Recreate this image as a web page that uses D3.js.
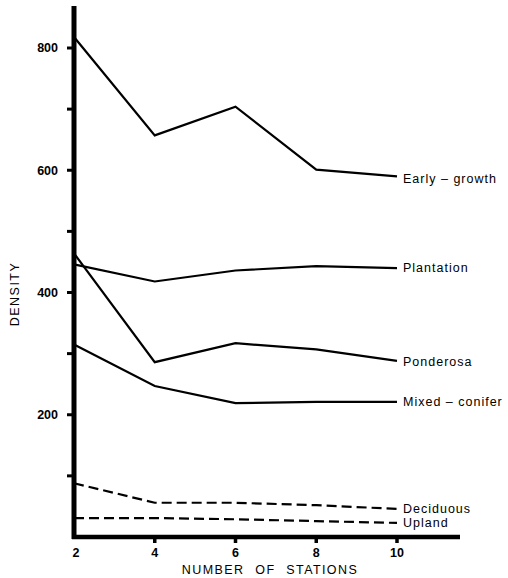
<!DOCTYPE html>
<html>
<head>
<meta charset="utf-8">
<script src="https://d3js.org/d3.v7.min.js"></script>
<style>
  body { margin: 0; background: #fff; }
  text { font-family: "Liberation Sans", Arial, sans-serif; fill: #000; }
</style>
</head>
<body>
<svg id="chart" width="508" height="578"></svg>
<script>
// stations on the x axis
const stations = [2, 4, 6, 8, 10];
// density values per habitat
const earlyGrowth   = [818, 657, 704, 601, 590];
const plantation    = [446, 418, 436, 443, 440];
const ponderosa     = [464, 286, 317, 307, 288];
const mixedConifer  = [315, 247, 219, 221, 221];
const deciduous     = [88, 56, 56, 52, 46];
const upland        = [31, 31, 29, 26, 23];
const seriesNames   = ["Early \u2013 growth", "Plantation", "Ponderosa", "Mixed \u2013 conifer", "Deciduous", "Upland"];
const dashedSeries  = [false, false, false, false, true, true];
const yTickLabels   = [200, 400, 600, 800];
const yMinorTicks   = [100, 300, 500, 700];

const allSeries = [earlyGrowth, plantation, ponderosa, mixedConifer, deciduous, upland];

const svg = d3.select("#chart");
const x = d3.scaleLinear().domain([2, 10]).range([74, 397]);
const y = d3.scaleLinear().domain([0, 800]).range([537, 48]);

// series lines
const line = d3.line().x((d, i) => x(stations[i])).y(d => y(d));
allSeries.forEach((s, k) => {
  svg.append("path")
    .attr("d", line(s))
    .attr("fill", "none")
    .attr("stroke", "#000")
    .attr("stroke-width", 2.2)
    .attr("stroke-dasharray", dashedSeries[k] ? "10,5" : null);
});

// labels at right end
const labelNudge = [2, 0, 1, 0, 0, 0];
allSeries.forEach((s, k) => {
  svg.append("text")
    .attr("x", x(10) + 6)
    .attr("y", y(s[4]) + labelNudge[k])
    .attr("dy", "0.35em")
    .attr("font-size", 12.5)
    .attr("letter-spacing", 1)
    .text(seriesNames[k]);
});

// y axis: thick line, ticks on the left
svg.append("line")
  .attr("x1", 74).attr("x2", 74)
  .attr("y1", 6).attr("y2", 539)
  .attr("stroke", "#000").attr("stroke-width", 5);
svg.selectAll(".ytick")
  .data(yTickLabels.concat(yMinorTicks))
  .enter().append("line")
  .attr("x1", 67).attr("x2", 74)
  .attr("y1", d => y(d)).attr("y2", d => y(d))
  .attr("stroke", "#000").attr("stroke-width", 3);
svg.selectAll(".ylab")
  .data(yTickLabels)
  .enter().append("text")
  .attr("x", 58)
  .attr("y", d => y(d))
  .attr("dy", "0.35em")
  .attr("text-anchor", "end")
  .attr("font-size", 12.5)
  .attr("font-weight", "bold")
  .text(d => d);

// x axis
svg.append("line")
  .attr("x1", 72).attr("x2", 460)
  .attr("y1", 537).attr("y2", 537)
  .attr("stroke", "#000").attr("stroke-width", 4.5);
svg.selectAll(".xtick")
  .data(stations.slice(1))
  .enter().append("line")
  .attr("x1", d => x(d)).attr("x2", d => x(d))
  .attr("y1", 537).attr("y2", 543)
  .attr("stroke", "#000").attr("stroke-width", 3.5);
svg.selectAll(".xlab")
  .data(stations)
  .enter().append("text")
  .attr("x", d => x(d) + (d === 2 ? 2 : 0))
  .attr("y", 553)
  .attr("dy", "0.35em")
  .attr("text-anchor", "middle")
  .attr("font-size", 12.5)
  .attr("font-weight", "bold")
  .text(d => d);

// axis titles
svg.append("text")
  .attr("x", 270).attr("y", 570)
  .attr("dy", "0.35em")
  .attr("text-anchor", "middle")
  .attr("font-size", 12.5)
  .attr("letter-spacing", 1.4)
  .attr("word-spacing", 6)
  .text("NUMBER OF STATIONS");
svg.append("text")
  .attr("transform", "translate(15,294) rotate(-90)")
  .attr("dy", "0.35em")
  .attr("text-anchor", "middle")
  .attr("font-size", 12.5)
  .attr("letter-spacing", 1.5)
  .text("DENSITY");
</script>
</body>
</html>
